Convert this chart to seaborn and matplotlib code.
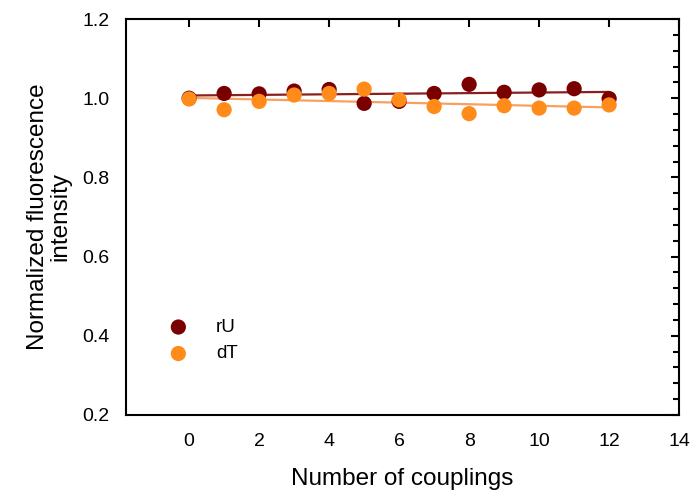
import numpy as np
import pandas as pd
import matplotlib
matplotlib.use("Agg")
import matplotlib.pyplot as plt
import seaborn as sns
from matplotlib.ticker import MultipleLocator

couplings = [0, 1, 2, 3, 4, 5, 6, 7, 8, 9, 10, 11, 12]
rU = [1.000, 1.012, 1.011, 1.018, 1.022, 0.987, 0.992, 1.012, 1.035, 1.015, 1.021, 1.024, 0.999]
dT = [0.998, 0.971, 0.992, 1.008, 1.012, 1.023, 0.996, 0.979, 0.961, 0.981, 0.975, 0.975, 0.983]
series_names = ["rU", "dT"]
colors = {"rU": "#7a0000", "dT": "#ff8c1a"}
line_colors = {"rU": "#8b1f1f", "dT": "#f7a060"}

df = pd.concat([
    pd.DataFrame({"x": couplings, "y": rU, "series": "rU"}),
    pd.DataFrame({"x": couplings, "y": dT, "series": "dT"}),
])

sns.set_style("white")
plt.rcParams["font.family"] = ["Liberation Sans", "DejaVu Sans"]
plt.rcParams["text.color"] = "black"
plt.rcParams["axes.labelcolor"] = "black"

fig = plt.figure(figsize=(6.93, 4.94), dpi=100)
ax = fig.add_axes([0.182, 0.160, 0.798, 0.8015])

for name in series_names:
    sub = df[df.series == name]
    sns.regplot(data=sub, x="x", y="y", ax=ax, scatter=False, ci=None,
                line_kws={"color": line_colors[name], "lw": 1.6, "zorder": 1})

for name in series_names:
    sub = df[df.series == name]
    sns.scatterplot(data=sub, x="x", y="y", ax=ax, color=colors[name], s=120,
                    edgecolor="none", zorder=2 + series_names.index(name), label=name)

ax.set_xlim(-1.8, 14)
ax.set_ylim(0.2, 1.2)
ax.set_xticks([0, 2, 4, 6, 8, 10, 12, 14])
ax.set_yticks([0.2, 0.4, 0.6, 0.8, 1.0, 1.2])
ax.yaxis.set_minor_locator(MultipleLocator(0.04))
ax.set_yticklabels(["0.2", "0.4", "0.6", "0.8", "1.0", "1.2"])
ax.tick_params(axis="both", which="both", direction="in", top=True, right=True,
               labelsize=14, colors="black", labelcolor="black", width=1.5)
ax.tick_params(axis="both", which="major", length=6, pad=13)
ax.tick_params(axis="y", which="major", pad=12)
ax.tick_params(axis="y", which="minor", length=4)
for sp in ax.spines.values():
    sp.set_color("black")
    sp.set_linewidth(1.5)

ax.set_xlabel("Number of couplings", fontsize=17.5, labelpad=13)
ax.set_ylabel("Normalized fluorescence\nintensity", fontsize=17.5, labelpad=8,
              multialignment="center", linespacing=1.0)

leg = ax.legend(loc="lower left", bbox_to_anchor=(0.03, 0.09), frameon=False,
                fontsize=13.5, handletextpad=1.0, labelspacing=0.5, markerscale=1.0)

fig.savefig("out.png", dpi=100)
